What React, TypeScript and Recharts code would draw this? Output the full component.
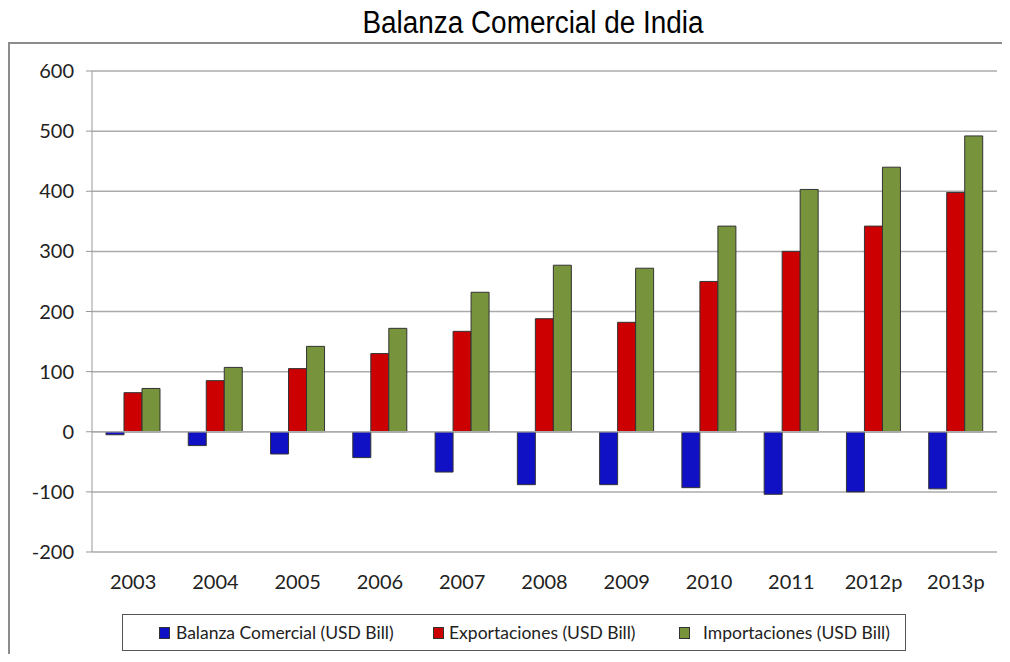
import { BarChart, Bar, XAxis, YAxis, CartesianGrid, Legend, ReferenceLine } from "recharts";

const years = ["2003", "2004", "2005", "2006", "2007", "2008", "2009", "2010", "2011", "2012p", "2013p"];
const balanza = [-5, -23, -37, -43, -67, -88, -88, -93, -104, -100, -95];
const exportaciones = [65, 85, 105, 130, 167, 188, 182, 250, 300, 342, 398];
const importaciones = [72, 107, 142, 172, 232, 277, 272, 342, 403, 440, 492];
const yTicks = [-200, -100, 0, 100, 200, 300, 400, 500, 600];

const data = years.map((year, i) => ({
  year,
  balanza: balanza[i],
  exportaciones: exportaciones[i],
  importaciones: importaciones[i],
}));

const series = [
  { key: "balanza", name: "Balanza Comercial (USD Bill)", color: "#1010C4" },
  { key: "exportaciones", name: "Exportaciones (USD Bill)", color: "#CC0000" },
  { key: "importaciones", name: "Importaciones (USD Bill)", color: "#77933C" },
];

// legend item offsets inside the box (px)
const legendLeft = [36, 310, 556];
const legendGap = [6, 5, 13];

const tickFont = { fontSize: 20, fill: "#222", fontFamily: "Lato, 'Open Sans', sans-serif" };

function LegendBox() {
  return (
    <div
      style={{
        position: "relative",
        height: "100%",
        boxSizing: "border-box",
        border: "1.5px solid #555",
        fontFamily: "Lato, 'Open Sans', sans-serif",
        fontSize: 17.5,
        color: "#222",
      }}
    >
      {series.map((s, i) => (
        <span
          key={s.key}
          style={{
            position: "absolute",
            left: legendLeft[i],
            top: 0,
            bottom: 0,
            display: "flex",
            alignItems: "center",
            whiteSpace: "nowrap",
          }}
        >
          <span
            style={{
              width: 9,
              height: 10,
              background: s.color,
              border: "1px solid #333",
              marginRight: legendGap[i],
              display: "inline-block",
            }}
          />
          {s.name}
        </span>
      ))}
    </div>
  );
}

export default function App() {
  return (
    <div style={{ position: "relative", width: 1010, height: 662, margin: -8, overflow: "hidden", background: "#fff" }}>
      <div
        style={{
          position: "absolute",
          left: 0,
          top: 5,
          width: 1066,
          textAlign: "center",
          fontFamily: "'Liberation Sans Narrow', 'Liberation Sans', Arial, sans-serif",
          fontSize: 31,
          color: "#000",
          transform: "scaleX(0.9)",
          transformOrigin: "533px 0",
        }}
      >
        Balanza Comercial de India
      </div>
      <div
        style={{
          position: "absolute",
          left: 8,
          top: 42,
          width: 997,
          height: 640,
          boxSizing: "border-box",
          border: "2px solid #8c8c8c",
        }}
      />
      <div style={{ position: "absolute", left: 0, top: 0 }}>
        <BarChart
          width={1010}
          height={662}
          data={data}
          margin={{ top: 71, right: 13, bottom: 33, left: 0 }}
          barCategoryGap="17%"
          barGap={0}
        >
          <CartesianGrid horizontal vertical={false} stroke="#ababab" strokeWidth={1.5} />
          <XAxis
            dataKey="year"
            axisLine={false}
            tickLine={false}
            height={40}
            tick={tickFont}
            tickMargin={17}
          />
          <YAxis
            width={92}
            domain={[-200, 600]}
            ticks={yTicks}
            allowDataOverflow
            axisLine={{ stroke: "#999" }}
            tickLine={{ stroke: "#999" }}
            tickSize={6}
            tickMargin={12}
            tick={tickFont}
          />
          <ReferenceLine y={0} stroke="#ababab" strokeWidth={1.5} />
          {series.map((s) => (
            <Bar
              key={s.key}
              dataKey={s.key}
              name={s.name}
              fill={s.color}
              stroke="#333"
              strokeWidth={1}
              isAnimationActive={false}
            />
          ))}
          <Legend
            content={<LegendBox />}
            wrapperStyle={{ position: "absolute", left: 122, top: 614, width: 784, height: 37 }}
          />
        </BarChart>
      </div>
    </div>
  );
}
